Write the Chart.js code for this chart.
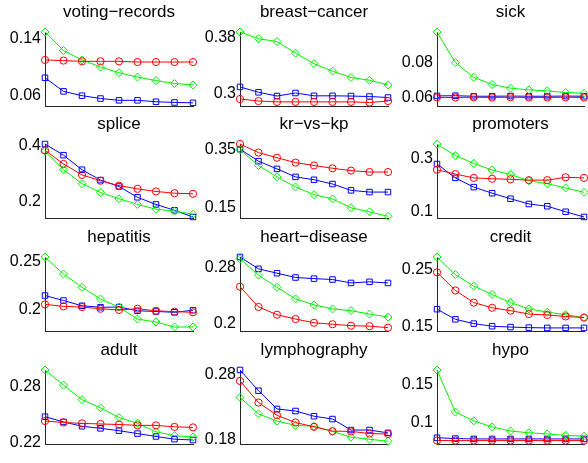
<!DOCTYPE html>
<html>
<head>
<meta charset="utf-8">
<script src="https://cdn.jsdelivr.net/npm/chart.js@4/dist/chart.umd.min.js"></script>
<style>
  html, body { margin: 0; padding: 0; background: #fff; }
  #wrap { position: relative; width: 588px; height: 463px; overflow: hidden; }
  canvas { position: absolute; }
</style>
</head>
<body>
<div id="wrap"></div>
<script>
const xSteps = [1, 2, 3, 4, 5, 6, 7, 8, 9];

const titles = ['voting\u2212records', 'breast\u2212cancer', 'sick',
                'splice', 'kr\u2212vs\u2212kp', 'promoters',
                'hepatitis', 'heart\u2212disease', 'credit',
                'adult', 'lymphography', 'hypo'];

const redSeries = [
  [0.110, 0.109, 0.108, 0.108, 0.108, 0.107, 0.107, 0.107, 0.107],
  [0.2925, 0.2896, 0.2884, 0.2884, 0.2884, 0.2884, 0.2884, 0.2875, 0.2896],
  [0.0598, 0.0598, 0.0599, 0.0598, 0.0599, 0.0598, 0.0598, 0.0599, 0.0598],
  [0.3845, 0.3356, 0.2964, 0.2756, 0.258, 0.2467, 0.2373, 0.231, 0.229],
  [0.3676, 0.3383, 0.3207, 0.304, 0.2943, 0.2847, 0.2768, 0.2719, 0.2719],
  [0.2568, 0.2406, 0.2265, 0.2232, 0.2212, 0.218, 0.218, 0.2287, 0.2265],
  [0.2052, 0.2031, 0.2024, 0.2006, 0.1994, 0.2006, 0.1985, 0.1976, 0.1969],
  [0.253, 0.224, 0.2128, 0.2066, 0.2012, 0.1991, 0.197, 0.1963, 0.1942],
  [0.2459, 0.2136, 0.192, 0.1828, 0.1777, 0.1716, 0.17, 0.1674, 0.1654],
  [0.2434, 0.2419, 0.2409, 0.2403, 0.2397, 0.2388, 0.2388, 0.2372, 0.2366],
  [0.2706, 0.237, 0.2172, 0.206, 0.1993, 0.1926, 0.1922, 0.1889, 0.1881],
  [0.0757, 0.0756, 0.0756, 0.0756, 0.0756, 0.0756, 0.0756, 0.0756, 0.0756]
];

const greenSeries = [
  [0.149, 0.123, 0.110, 0.100, 0.092, 0.086, 0.081, 0.077, 0.075],
  [0.3875, 0.378, 0.374, 0.3575, 0.3425, 0.332, 0.323, 0.319, 0.3125],
  [0.0978, 0.080, 0.0715, 0.0673, 0.0652, 0.0642, 0.0636, 0.0627, 0.0622],
  [0.381, 0.315, 0.265, 0.234, 0.211, 0.191, 0.174, 0.167, 0.156],
  [0.348, 0.294, 0.2553, 0.221, 0.1947, 0.180, 0.15, 0.136, 0.1206],
  [0.353, 0.3097, 0.2805, 0.2556, 0.2394, 0.2157, 0.205, 0.1888, 0.1725],
  [0.2546, 0.2368, 0.223, 0.2107, 0.2024, 0.1899, 0.1868, 0.1816, 0.1816],
  [0.2933, 0.2697, 0.2522, 0.2356, 0.2269, 0.2211, 0.2187, 0.2137, 0.2095],
  [0.2731, 0.2418, 0.2213, 0.2065, 0.192, 0.1808, 0.1751, 0.1705, 0.1654],
  [0.2981, 0.2819, 0.2663, 0.2575, 0.2472, 0.2409, 0.2319, 0.2278, 0.2263],
  [0.245, 0.2195, 0.2083, 0.2016, 0.2002, 0.1922, 0.1832, 0.18, 0.1768],
  [0.1698, 0.1136, 0.102, 0.0938, 0.0884, 0.086, 0.0845, 0.0825, 0.0814]
];

const blueSeries = [
  [0.085, 0.066, 0.060, 0.056, 0.0535, 0.0535, 0.0515, 0.0505, 0.050],
  [0.3096, 0.302, 0.2967, 0.301, 0.297, 0.297, 0.2967, 0.296, 0.2946],
  [0.0607, 0.0608, 0.0605, 0.0605, 0.0606, 0.0605, 0.0605, 0.0606, 0.0605],
  [0.407, 0.367, 0.315, 0.278, 0.255, 0.2165, 0.191, 0.170, 0.146],
  [0.350, 0.309, 0.2826, 0.2553, 0.2455, 0.231, 0.2094, 0.2035, 0.2035],
  [0.2783, 0.2265, 0.192, 0.1693, 0.1486, 0.129, 0.1207, 0.100, 0.0805],
  [0.2144, 0.2092, 0.2037, 0.2022, 0.2024, 0.1985, 0.1978, 0.1969, 0.1991],
  [0.2958, 0.2788, 0.2725, 0.2663, 0.2647, 0.2634, 0.2585, 0.2601, 0.2585],
  [0.1803, 0.1623, 0.1546, 0.150, 0.1485, 0.1475, 0.147, 0.147, 0.147],
  [0.2481, 0.2425, 0.2378, 0.2356, 0.2331, 0.230, 0.2269, 0.224, 0.2231],
  [0.2876, 0.2554, 0.2271, 0.2239, 0.2158, 0.2114, 0.1943, 0.1943, 0.1899],
  [0.0794, 0.0783, 0.0778, 0.0778, 0.0778, 0.0778, 0.0778, 0.0778, 0.0778]
];

const tickValues = [
  [0.06, 0.14], [0.3, 0.38], [0.06, 0.08],
  [0.2, 0.4], [0.15, 0.35], [0.1, 0.3],
  [0.2, 0.25], [0.2, 0.28], [0.15, 0.25],
  [0.22, 0.28], [0.18, 0.28], [0.1, 0.15]
];
const tickLabels = [
  ['0.06', '0.14'], ['0.3', '0.38'], ['0.06', '0.08'],
  ['0.2', '0.4'], ['0.15', '0.35'], ['0.1', '0.3'],
  ['0.2', '0.25'], ['0.2', '0.28'], ['0.15', '0.25'],
  ['0.22', '0.28'], ['0.18', '0.28'], ['0.1', '0.15']
];
const yMins = [0.045, 0.282, 0.0546, 0.141, 0.1136, 0.0752, 0.177, 0.1888, 0.1408, 0.2184, 0.172, 0.0705];

// layout
const colAxisX = [45, 240, 437];
const colWidth = [148, 148, 147];
const rowTop = [0, 112, 225, 338];
const CW = 200, CH = 120, YW = 45, PLOT_H = 85, TOP = 32;
const FONT = "'Liberation Sans', Arial, Helvetica, sans-serif";

const wrap = document.getElementById('wrap');

titles.forEach((title, i) => {
  const r = Math.floor(i / 3), c = i % 3;
  const cv = document.createElement('canvas');
  cv.width = CW; cv.height = CH;
  cv.style.left = (colAxisX[c] - YW) + 'px';
  cv.style.top = rowTop[r] + 'px';
  cv.style.width = CW + 'px'; cv.style.height = CH + 'px';
  wrap.appendChild(cv);

  const mk = (vals, color, style, rad) => ({
    data: xSteps.map((x, k) => ({ x: x, y: vals[k] })),
    borderColor: color,
    backgroundColor: 'rgba(0,0,0,0)',
    borderWidth: 1,
    pointStyle: style,
    pointRadius: rad,
    pointBorderWidth: 1,
    pointBorderColor: color,
    pointBackgroundColor: 'rgba(0,0,0,0)',
    tension: 0,
    clip: false
  });

  const allVals = redSeries[i].concat(greenSeries[i], blueSeries[i]);
  const yMax = Math.max.apply(null, allVals);
  const tv = tickValues[i], tl = tickLabels[i];

  new Chart(cv, {
    type: 'line',
    data: {
      datasets: [
        mk(redSeries[i], '#ff0000', 'circle', 3.6),
        mk(greenSeries[i], '#00f000', 'rectRot', 4),
        mk(blueSeries[i], '#0000ff', 'rect', 3.9)
      ]
    },
    options: {
      responsive: false,
      animation: false,
      devicePixelRatio: 1,
      layout: { padding: { left: 0, right: CW - YW - colWidth[c], top: 0, bottom: CH - TOP - PLOT_H } },
      plugins: {
        legend: { display: false },
        tooltip: { enabled: false },
        title: {
          display: true,
          fullSize: false,
          text: title,
          color: '#000',
          font: { family: FONT, size: 17, weight: 'normal', lineHeight: 1.2 },
          padding: { top: 2, bottom: 9.6 }
        }
      },
      scales: {
        x: {
          type: 'linear',
          min: 1, max: 9,
          grid: { display: false, drawTicks: false },
          border: { display: true, color: '#262626', width: 1 },
          ticks: { display: false },
          afterFit: s => { s.height = 0; }
        },
        y: {
          type: 'linear',
          min: yMins[i], max: yMax,
          grid: { display: false, drawTicks: false },
          border: { display: true, color: '#262626', width: 1 },
          ticks: {
            color: '#000',
            padding: 4,
            font: { family: FONT, size: 16 },
            callback: (v) => {
              const k = tv.indexOf(v);
              return k >= 0 ? tl[k] : '';
            }
          },
          afterBuildTicks: s => { s.ticks = tv.map(v => ({ value: v })); },
          afterFit: s => { s.width = YW; }
        }
      }
    }
  });
});
</script>
</body>
</html>
